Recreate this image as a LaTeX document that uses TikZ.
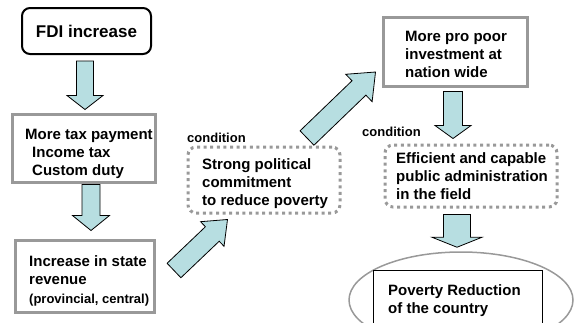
\documentclass[tikz,border=0pt]{standalone}
\usepackage{fontspec}
\setmainfont{Liberation Sans}
\usetikzlibrary{calc,shapes.geometric}
\definecolor{boxgray}{RGB}{153,153,153}
\definecolor{arrowblue}{RGB}{183,222,225}
\tikzset{
	fdibox/.style={draw, line width=2pt, rounded corners=8pt, minimum width=129, minimum height=46, inner sep=0pt, font=\fontsize{17}{20}\selectfont\bfseries},
	greybox/.style={draw=boxgray, line width=3pt, inner sep=0pt},
	dotbox/.style={draw=boxgray, line width=3pt, dash pattern=on 3pt off 3.6pt, rounded corners=8pt, inner sep=0pt},
	txt/.style={inner sep=0pt, align=left, anchor=base west, font=\fontsize{15}{18}\selectfont\bfseries},
	small/.style={inner sep=0pt, anchor=base west, font=\fontsize{13}{15}\selectfont\bfseries},
	fat/.style={draw, line width=0.8pt, fill=arrowblue, line join=miter},
}
% #1 tail, #2 tip, #3 shaft half width, #4 head half width, #5 head length
\newcommand\fatarrow[5]{%
	\coordinate (fa-a) at (#1);
	\coordinate (fa-b) at (#2);
	\coordinate (fa-c) at ($(fa-b)!#5pt!(fa-a)$);
	\draw[fat] ($(fa-a)!#3pt!90:(fa-b)$)--($(fa-c)!#3pt!90:(fa-b)$)--($(fa-c)!#4pt!90:(fa-b)$)--(fa-b)
		--($(fa-c)!#4pt!-90:(fa-b)$)--($(fa-c)!#3pt!-90:(fa-b)$)--($(fa-a)!#3pt!-90:(fa-b)$)--cycle;}
\begin{document}
\begin{tikzpicture}[x=1pt,y=-1pt]
	\useasboundingbox (0,0) rectangle (577,322);
	\clip (0,0) rectangle (577,322);
	% left column (text nodes sit on the baseline of their last line)
	\node[fdibox] (fdi) at (86.5,31) {FDI increase};
	\node[greybox, minimum width=143, minimum height=68] (tax) at (83.5,148) {};
	\node[txt] (tax-t) at (25,175) {More tax payment\\\hspace*{7pt}Income tax\\\hspace*{7pt}Custom duty};
	\node[greybox, minimum width=139, minimum height=72] (rev) at (84.5,276) {};
	\node[txt] (rev-t) at (29,303) {Increase in state\\revenue\\[1pt]{\fontsize{13}{15}\selectfont(provincial, central)}};
	% conditions
	\node[dotbox, minimum width=152, minimum height=66] (strong) at (264,180) {};
	\node[txt] (strong-t) at (202,205) {Strong political\\commitment\\to reduce poverty};
	\node[small] (cond1) at (187,142) {condition};
	\node[dotbox, minimum width=172, minimum height=62] (eff) at (471,176) {};
	\node[txt] (eff-t) at (396,199) {Efficient and capable\\public administration\\in the field};
	\node[small] (cond2) at (362,136) {condition};
	% right column
	\node[greybox, minimum width=144, minimum height=69] (pro) at (455,51.5) {};
	\node[txt] (pro-t) at (405,77) {More pro poor\\investment at\\nation wide};
	\node[ellipse, draw=boxgray, line width=1.5pt, minimum width=224, minimum height=96, inner sep=0pt] (ell) at (461,300) {};
	\node[draw, fill=white, line width=1pt, minimum width=169, minimum height=70, inner sep=0pt] (pov) at (457.5,305) {};
	\node[txt] (pov-t) at (388,313) {Poverty Reduction\\of the country};
	% arrows
	\fatarrow{$(fdi.south)+(-1.5,6)$}{$(tax.north)+(1.5,-3)$}{8.5}{18}{14}
	\fatarrow{$(tax.south)+(7.5,1)$}{$(rev.north)+(6.5,-8)$}{9}{18.5}{15}
	\fatarrow{$(rev.east)+(18.5,-5.5)$}{$(strong.south west)+(41,5)$}{10}{17}{21}
	\fatarrow{$(strong.north east)+(-34.5,-7.5)$}{$(pro.west)+(-6,20.5)$}{10}{19}{23}
	\fatarrow{$(pro.south)+(-2,4)$}{$(eff.north)+(-18,-5)$}{9.5}{18}{13}
	\fatarrow{$(eff.south)+(-14,6)$}{$(ell.north)+(-4,-4)$}{13.5}{25}{10}
\end{tikzpicture}
\end{document}
